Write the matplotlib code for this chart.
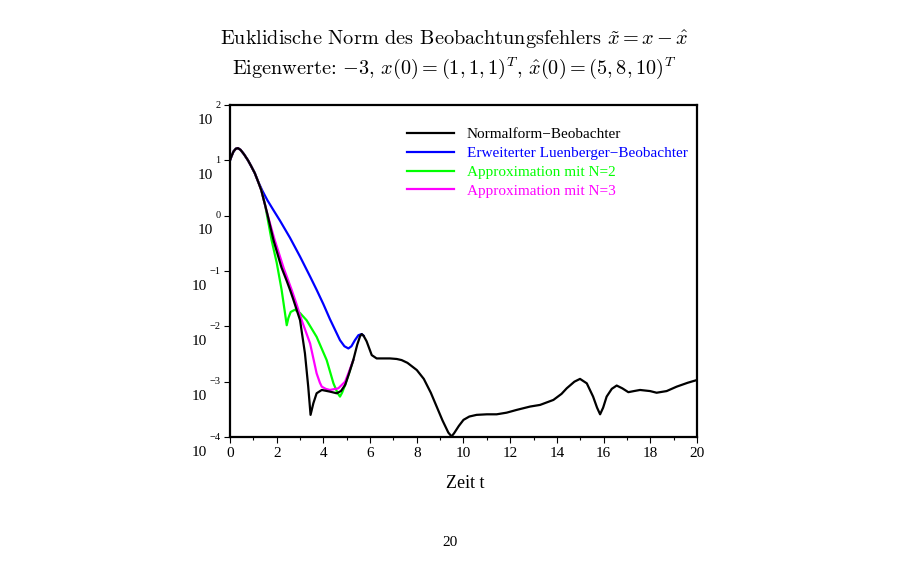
import numpy as np
import matplotlib
matplotlib.use('Agg')
import matplotlib.pyplot as plt

plt.rcParams['mathtext.fontset'] = 'cm'
plt.rcParams['font.family'] = ['Liberation Serif', 'DejaVu Serif']

# Normalform-Beobachter (log10 of the error norm)
t_norm = [0, 0.06, 0.15, 0.25, 0.34, 0.45, 0.6, 0.77, 0.9, 1.06, 1.2, 1.34, 1.6,
          1.86, 2.2, 2.43, 2.57, 2.7, 3.0, 3.21, 3.35, 3.45, 3.57, 3.71, 3.93,
          4.28, 4.57, 4.75, 4.93, 5.1, 5.28, 5.45, 5.57, 5.64, 5.72, 5.85, 6.07,
          6.28, 6.85, 7.14, 7.35, 7.6, 8.0, 8.3, 8.6, 8.85, 9.1, 9.35, 9.49, 9.6,
          9.8, 10.0, 10.25, 10.56, 11.0, 11.42, 11.85, 12.28, 12.85, 13.28, 13.85,
          14.2, 14.42, 14.75, 14.99, 15.28, 15.55, 15.72, 15.85, 15.98, 16.13,
          16.35, 16.56, 16.8, 17.06, 17.3, 17.56, 17.99, 18.27, 18.7, 19.13, 19.6, 20]
e_norm = [1.0, 1.07, 1.16, 1.21, 1.22, 1.19, 1.11, 1.0, 0.9, 0.77, 0.62, 0.46, 0.03,
          -0.44, -0.93, -1.18, -1.34, -1.5, -1.89, -2.49, -3.09, -3.6, -3.39, -3.21,
          -3.15, -3.18, -3.21, -3.17, -3.06, -2.85, -2.61, -2.33, -2.18, -2.14,
          -2.17, -2.27, -2.52, -2.58, -2.58, -2.59, -2.61, -2.66, -2.79, -2.95,
          -3.2, -3.45, -3.7, -3.92, -3.99, -3.93, -3.8, -3.69, -3.63, -3.6, -3.59,
          -3.59, -3.56, -3.51, -3.45, -3.42, -3.33, -3.22, -3.12, -3.0, -2.95,
          -3.03, -3.27, -3.47, -3.59, -3.47, -3.27, -3.13, -3.07, -3.12, -3.19,
          -3.17, -3.15, -3.17, -3.2, -3.17, -3.09, -3.02, -2.97]

# Erweiterter Luenberger-Beobachter
t_lue = [0, 0.06, 0.15, 0.25, 0.34, 0.45, 0.6, 0.77, 0.9, 1.06, 1.2, 1.4, 1.6, 1.86,
         2.14, 2.57, 3.0, 3.43, 3.71, 4.0, 4.28, 4.71, 4.9, 5.07, 5.2, 5.35, 5.5,
         5.64, 5.72]
e_lue = [1.0, 1.07, 1.16, 1.21, 1.22, 1.19, 1.11, 1.0, 0.9, 0.77, 0.62, 0.44, 0.28,
         0.1, -0.09, -0.4, -0.74, -1.1, -1.34, -1.6, -1.87, -2.25, -2.36, -2.4,
         -2.36, -2.25, -2.16, -2.14, -2.17]

# Approximation mit N=2
t_n2 = [0, 0.06, 0.15, 0.25, 0.34, 0.45, 0.6, 0.77, 0.9, 1.06, 1.2, 1.34, 1.5, 1.78,
        2.0, 2.21, 2.3, 2.43, 2.5, 2.6, 2.78, 3.0, 3.28, 3.71, 4.14, 4.43, 4.6,
        4.71, 4.8, 4.93, 5.14, 5.28]
e_n2 = [1.0, 1.07, 1.16, 1.21, 1.22, 1.19, 1.11, 1.0, 0.9, 0.77, 0.62, 0.46, 0.2,
        -0.44, -0.85, -1.34, -1.6, -1.98, -1.85, -1.74, -1.7, -1.76, -1.89, -2.19,
        -2.61, -3.03, -3.2, -3.27, -3.2, -3.06, -2.79, -2.61]

# Approximation mit N=3
t_n3 = [0, 0.06, 0.15, 0.25, 0.34, 0.45, 0.6, 0.77, 0.9, 1.06, 1.2, 1.34, 1.6, 1.9,
        2.3, 2.64, 2.85, 3.07, 3.43, 3.71, 3.85, 3.93, 4.1, 4.28, 4.64, 4.93, 5.07,
        5.28]
e_n3 = [1.0, 1.07, 1.16, 1.21, 1.22, 1.19, 1.11, 1.0, 0.9, 0.77, 0.62, 0.46, 0.03,
        -0.42, -0.95, -1.34, -1.6, -1.89, -2.31, -2.85, -3.02, -3.09, -3.13, -3.15,
        -3.12, -3.0, -2.85, -2.61]

labels = ['Normalform\u2212Beobachter', 'Erweiterter Luenberger\u2212Beobachter',
          'Approximation mit N=2', 'Approximation mit N=3']
decades = [-4, -3, -2, -1, 0, 1, 2]

fig = plt.figure(figsize=(9, 5.8), dpi=100)
ax = fig.add_axes([230 / 900, 1 - 437 / 580, 467 / 900, 332 / 580])

kw = dict(lw=1.6, solid_joinstyle='round')
l2, = ax.semilogy(t_lue, 10 ** np.array(e_lue), color='#0000ff', **kw)
l3, = ax.semilogy(t_n2, 10 ** np.array(e_n2), color='#00ff00', **kw)
l4, = ax.semilogy(t_n3, 10 ** np.array(e_n3), color='#ff00ff', **kw)
l1, = ax.semilogy(t_norm, 10 ** np.array(e_norm), color='black', **kw)

ax.set_xlim(0, 20)
ax.set_ylim(1e-4, 1e2)
ax.set_xticks(range(0, 21, 2))
ax.set_xticks(range(1, 20, 2), minor=True)
ax.tick_params(axis='x', which='major', length=4, width=0.8, labelsize=11, pad=3)
ax.tick_params(axis='x', which='minor', length=2.5, width=0.8)
ax.set_yticks([10.0 ** d for d in decades])
ax.set_yticklabels([])
ax.yaxis.set_minor_locator(matplotlib.ticker.NullLocator())
ax.tick_params(axis='y', which='major', length=4, width=0.8)
for s in ax.spines.values():
    s.set_linewidth(1.6)

# Maple style y labels: small exponent at the tick, "10" below it
trans = matplotlib.transforms.blended_transform_factory(ax.transAxes, ax.transData)
for d in decades:
    es = str(d).replace('-', '\u2212')
    et = ax.text(-0.02, 10.0 ** d, es, transform=trans, ha='right', va='center',
                 fontsize=7.5)
    ax.annotate('10', xy=(0, 0), xycoords=et, xytext=(-2, -3),
                textcoords='offset points', ha='right', va='top', fontsize=11)

leg = ax.legend([l1, l2, l3, l4], labels, loc='upper left',
                bbox_to_anchor=(0.365, 0.95), frameon=False, fontsize=11,
                handlelength=3.1, handletextpad=0.85, labelspacing=0.33,
                labelcolor='linecolor', borderaxespad=0)

fig.text(0.505, 0.931, r'Euklidische Norm des Beobachtungsfehlers $\tilde{x} = x - \hat{x}$',
         ha='center', va='center', fontsize=14.6, fontfamily='cmr10')
fig.text(0.505, 0.882, r'Eigenwerte: $-3$, $x(0) = (1,1,1)^T$, $\hat{x}(0) = (5,8,10)^T$',
         ha='center', va='center', fontsize=14.6, fontfamily='cmr10')
fig.text(465 / 900, 1 - 484 / 580, 'Zeit t', ha='center', va='center', fontsize=13)
fig.text(450 / 900, 1 - 543 / 580, '20', ha='center', va='center', fontsize=11)

fig.savefig('out.png', dpi=100)
